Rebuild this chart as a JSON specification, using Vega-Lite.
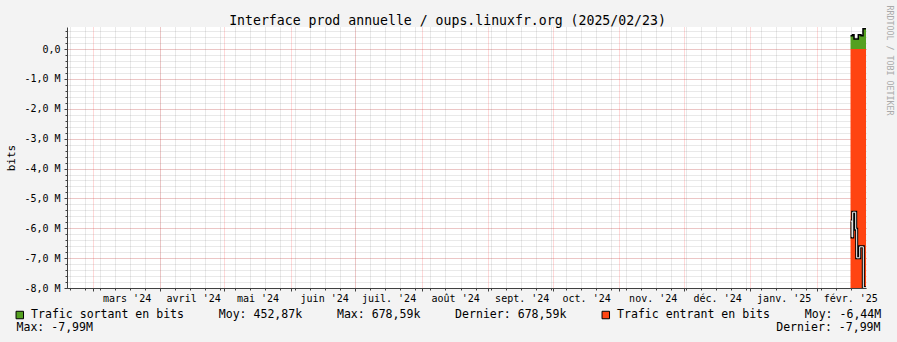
{
  "$schema": "https://vega.github.io/schema/vega-lite/v6.json",
  "width": 799,
  "height": 261,
  "autosize": {"type": "none"},
  "padding": {"left": 67, "top": 27, "right": 31, "bottom": 54},
  "background": "#f3f3f3",
  "title": {"text": "Interface prod annuelle / oups.linuxfr.org (2025/02/23)", "font": "DejaVu Sans Mono", "fontSize": 13.2, "fontWeight": "normal", "color": "#000000", "anchor": "middle", "dx": -19, "dy": 37.5, "offset": 4, "baseline": "alphabetic"},
  "config": {
    "view": {"fill": "#ffffff", "stroke": null},
    "axis": {"labelFont": "DejaVu Sans Mono", "titleFont": "DejaVu Sans Mono", "labelColor": "#000000", "titleColor": "#000000", "titleFontWeight": "normal"},
    "legend": {"labelFont": "DejaVu Sans Mono"}
  },
  "datasets": {
    "out": [
      {"date": "2025-02-16T15:00:00Z", "v": 445000},
      {"date": "2025-02-17T13:00:00Z", "v": 479000},
      {"date": "2025-02-18T06:00:00Z", "v": 335000},
      {"date": "2025-02-20T06:00:00Z", "v": 479000},
      {"date": "2025-02-21T12:00:00Z", "v": 445000},
      {"date": "2025-02-22T10:30:00Z", "v": 678590},
      {"date": "2025-02-23T20:00:00Z", "v": 678590}
    ],
    "inArea": [
      {"date": "2025-02-16T15:00:00Z", "v": -8000000},
      {"date": "2025-02-23T20:00:00Z", "v": -8000000}
    ],
    "inLine": [
      {"date": "2025-02-16T17:00:00Z", "v": -5760000},
      {"date": "2025-02-17T07:30:00Z", "v": -6290000},
      {"date": "2025-02-17T15:20:00Z", "v": -5460000},
      {"date": "2025-02-19T01:00:00Z", "v": -6030000},
      {"date": "2025-02-19T12:00:00Z", "v": -6990000},
      {"date": "2025-02-20T21:40:00Z", "v": -6620000},
      {"date": "2025-02-22T14:00:00Z", "v": -7990000},
      {"date": "2025-02-23T20:00:00Z", "v": -7990000}
    ]
  },
  "layer": [
    {
      "data": {"name": "out"},
      "mark": {"type": "area", "interpolate": "step-after", "clip": true, "opacity": 1},
      "encoding": {
        "x": {"field": "date", "type": "temporal",
          "scale": {"type": "utc", "nice": false, "domain": [{"year": 2024, "month": 2, "date": 17, "hours": 18, "utc": true}, {"year": 2025, "month": 2, "date": 23, "hours": 20, "utc": true}]},
          "axis": {"orient": "bottom", "labels": false, "domain": false, "ticks": true, "tickSize": 2, "tickColor": "#404040",
            "grid": true, "gridColor": "#808080", "gridOpacity": 0.35, "gridDash": [1, 1],
            "title": "Dernier: -7,99M", "titleFontSize": 11.55, "titleX": 813, "titleY": 39.5, "titleAlign": "right", "titleBaseline": "middle", "titleAngle": 0,
            "values": [
              {"year": 2024, "month": 2, "date": 19, "utc": true}, {"year": 2024, "month": 2, "date": 26, "utc": true},
              {"year": 2024, "month": 3, "date": 4, "utc": true}, {"year": 2024, "month": 3, "date": 11, "utc": true}, {"year": 2024, "month": 3, "date": 18, "utc": true}, {"year": 2024, "month": 3, "date": 25, "utc": true},
              {"year": 2024, "month": 4, "date": 1, "utc": true}, {"year": 2024, "month": 4, "date": 8, "utc": true}, {"year": 2024, "month": 4, "date": 15, "utc": true}, {"year": 2024, "month": 4, "date": 22, "utc": true}, {"year": 2024, "month": 4, "date": 29, "utc": true},
              {"year": 2024, "month": 5, "date": 6, "utc": true}, {"year": 2024, "month": 5, "date": 13, "utc": true}, {"year": 2024, "month": 5, "date": 20, "utc": true}, {"year": 2024, "month": 5, "date": 27, "utc": true},
              {"year": 2024, "month": 6, "date": 3, "utc": true}, {"year": 2024, "month": 6, "date": 10, "utc": true}, {"year": 2024, "month": 6, "date": 17, "utc": true}, {"year": 2024, "month": 6, "date": 24, "utc": true},
              {"year": 2024, "month": 7, "date": 1, "utc": true}, {"year": 2024, "month": 7, "date": 8, "utc": true}, {"year": 2024, "month": 7, "date": 15, "utc": true}, {"year": 2024, "month": 7, "date": 22, "utc": true}, {"year": 2024, "month": 7, "date": 29, "utc": true},
              {"year": 2024, "month": 8, "date": 5, "utc": true}, {"year": 2024, "month": 8, "date": 12, "utc": true}, {"year": 2024, "month": 8, "date": 19, "utc": true}, {"year": 2024, "month": 8, "date": 26, "utc": true},
              {"year": 2024, "month": 9, "date": 2, "utc": true}, {"year": 2024, "month": 9, "date": 9, "utc": true}, {"year": 2024, "month": 9, "date": 16, "utc": true}, {"year": 2024, "month": 9, "date": 23, "utc": true}, {"year": 2024, "month": 9, "date": 30, "utc": true},
              {"year": 2024, "month": 10, "date": 7, "utc": true}, {"year": 2024, "month": 10, "date": 14, "utc": true}, {"year": 2024, "month": 10, "date": 21, "utc": true}, {"year": 2024, "month": 10, "date": 28, "utc": true},
              {"year": 2024, "month": 11, "date": 4, "utc": true}, {"year": 2024, "month": 11, "date": 11, "utc": true}, {"year": 2024, "month": 11, "date": 18, "utc": true}, {"year": 2024, "month": 11, "date": 25, "utc": true},
              {"year": 2024, "month": 12, "date": 2, "utc": true}, {"year": 2024, "month": 12, "date": 9, "utc": true}, {"year": 2024, "month": 12, "date": 16, "utc": true}, {"year": 2024, "month": 12, "date": 23, "utc": true}, {"year": 2024, "month": 12, "date": 30, "utc": true},
              {"year": 2025, "month": 1, "date": 6, "utc": true}, {"year": 2025, "month": 1, "date": 13, "utc": true}, {"year": 2025, "month": 1, "date": 20, "utc": true}, {"year": 2025, "month": 1, "date": 27, "utc": true},
              {"year": 2025, "month": 2, "date": 3, "utc": true}, {"year": 2025, "month": 2, "date": 10, "utc": true}, {"year": 2025, "month": 2, "date": 17, "utc": true}
            ]}},
        "y": {"field": "v", "type": "quantitative",
          "scale": {"domain": [-8000000, 740000], "nice": false, "zero": false},
          "axis": {"orient": "left", "title": null, "labels": false, "domain": false, "ticks": true, "tickSize": 2, "tickColor": "#404040",
            "grid": true, "gridColor": "#808080", "gridOpacity": 0.35, "gridDash": [1, 1],
            "values": [-8000000, -7800000, -7600000, -7400000, -7200000, -7000000, -6800000, -6600000, -6400000, -6200000, -6000000, -5800000, -5600000, -5400000, -5200000, -5000000, -4800000, -4600000, -4400000, -4200000, -4000000, -3800000, -3600000, -3400000, -3200000, -3000000, -2800000, -2600000, -2400000, -2200000, -2000000, -1800000, -1600000, -1400000, -1200000, -1000000, -800000, -600000, -400000, -200000, 0, 200000, 400000, 600000]}},
        "color": {"datum": "sortant",
          "scale": {"domain": ["sortant", "entrant"], "range": ["#54a020", "#ff4411"]},
          "legend": {"orient": "none", "legendX": -53, "legendY": 282, "direction": "horizontal", "columns": 2, "columnPadding": 33,
            "title": null, "padding": 0, "symbolType": "square", "symbolSize": 56, "symbolStrokeColor": "#000000", "symbolStrokeWidth": 1, "symbolOpacity": 1,
            "labelFont": "DejaVu Sans Mono", "labelFontSize": 11.55, "labelColor": "#000000", "labelLimit": 2000, "labelOffset": 5.5,
            "labelExpr": "datum.value == 'sortant' ? 'Trafic sortant en bits\u00a0\u00a0\u00a0\u00a0\u00a0Moy: 452,87k\u00a0\u00a0\u00a0\u00a0\u00a0Max: 678,59k\u00a0\u00a0\u00a0\u00a0\u00a0Dernier: 678,59k' : 'Trafic entrant en bits\u00a0\u00a0\u00a0\u00a0\u00a0Moy: -6,44M'"}}
      }
    },
    {
      "data": {"name": "inArea"},
      "mark": {"type": "area", "interpolate": "step-after", "clip": true, "opacity": 1},
      "encoding": {
        "x": {"field": "date", "type": "temporal",
          "axis": {"orient": "bottom", "title": null, "labels": false, "domain": true, "domainColor": "#404040", "ticks": true, "tickSize": 3, "tickColor": "#404040",
            "grid": true, "gridColor": "#ff0000", "gridOpacity": 0.3, "gridDash": [1, 1],
            "values": [
              {"year": 2024, "month": 3, "date": 1, "utc": true}, {"year": 2024, "month": 4, "date": 1, "utc": true}, {"year": 2024, "month": 5, "date": 1, "utc": true},
              {"year": 2024, "month": 6, "date": 1, "utc": true}, {"year": 2024, "month": 7, "date": 1, "utc": true}, {"year": 2024, "month": 8, "date": 1, "utc": true},
              {"year": 2024, "month": 9, "date": 1, "utc": true}, {"year": 2024, "month": 10, "date": 1, "utc": true}, {"year": 2024, "month": 11, "date": 1, "utc": true},
              {"year": 2024, "month": 12, "date": 1, "utc": true}, {"year": 2025, "month": 1, "date": 1, "utc": true}, {"year": 2025, "month": 2, "date": 1, "utc": true}
            ]}},
        "y": {"field": "v", "type": "quantitative",
          "axis": {"orient": "left", "domain": true, "domainColor": "#404040", "ticks": true, "tickSize": 3, "tickColor": "#404040",
            "grid": true, "gridColor": "#ff0000", "gridOpacity": 0.3, "gridDash": [1, 1],
            "values": [-8000000, -7000000, -6000000, -5000000, -4000000, -3000000, -2000000, -1000000, 0],
            "labelFontSize": 10, "labelPadding": 4,
            "labelExpr": "datum.value == 0 ? '0,0\u00a0\u00a0' : '-' + replace(format(-datum.value / 1000000, '.1f'), '.', ',') + ' M'",
            "title": "bits", "titleFontSize": 11, "titleX": -56, "titleY": 130.5, "titleAngle": -90, "titleAlign": "center", "titleBaseline": "middle"}},
        "color": {"datum": "entrant"}
      }
    },
    {
      "data": {"name": "out"},
      "mark": {"type": "line", "interpolate": "step-after", "color": "#000000", "strokeWidth": 1.5, "clip": true},
      "encoding": {
        "x": {"field": "date", "type": "temporal",
          "axis": {"orient": "bottom", "grid": false, "ticks": false, "domain": false, "labels": true,
            "labelFontSize": 10, "labelPadding": 5, "labelOverlap": false, "labelFlush": false, "labelBound": false,
            "labelExpr": "['janv.','févr.','mars','avril','mai','juin','juil.','août','sept.','oct.','nov.','déc.'][utcmonth(datum.value)] + \" '\" + utcFormat(datum.value, '%y')",
            "values": [
              {"year": 2024, "month": 3, "date": 16, "hours": 12, "utc": true}, {"year": 2024, "month": 4, "date": 16, "hours": 12, "utc": true}, {"year": 2024, "month": 5, "date": 16, "hours": 12, "utc": true},
              {"year": 2024, "month": 6, "date": 16, "hours": 12, "utc": true}, {"year": 2024, "month": 7, "date": 16, "hours": 12, "utc": true}, {"year": 2024, "month": 8, "date": 16, "hours": 12, "utc": true},
              {"year": 2024, "month": 9, "date": 16, "hours": 12, "utc": true}, {"year": 2024, "month": 10, "date": 16, "hours": 12, "utc": true}, {"year": 2024, "month": 11, "date": 16, "hours": 12, "utc": true},
              {"year": 2024, "month": 12, "date": 16, "hours": 12, "utc": true}, {"year": 2025, "month": 1, "date": 16, "hours": 12, "utc": true}, {"year": 2025, "month": 2, "date": 16, "hours": 12, "utc": true}
            ],
            "title": "Max: -7,99M",
            "titleFontSize": 11.55, "titleX": -51, "titleY": 39.5, "titleAlign": "left", "titleBaseline": "middle", "titleAngle": 0}},
        "y": {"field": "v", "type": "quantitative",
          "axis": {"orient": "right", "grid": false, "ticks": false, "domain": false, "labels": false,
            "title": "RRDTOOL / TOBI OETIKER", "titleFontSize": 8.3, "titleColor": "#aaaaaa", "titleX": 22, "titleY": -22, "titleAngle": 90, "titleAlign": "left", "titleBaseline": "middle"}}
      }
    },
    {
      "data": {"name": "inLine"},
      "mark": {"type": "line", "interpolate": "step-after", "color": "#000000", "strokeWidth": 3, "clip": true},
      "encoding": {
        "x": {"field": "date", "type": "temporal", "axis": null},
        "y": {"field": "v", "type": "quantitative", "axis": null}
      }
    },
    {
      "data": {"name": "inLine"},
      "mark": {"type": "line", "interpolate": "step-after", "color": "#ffffff", "strokeWidth": 1, "clip": true},
      "encoding": {
        "x": {"field": "date", "type": "temporal", "axis": null},
        "y": {"field": "v", "type": "quantitative", "axis": null}
      }
    }
  ],
  "resolve": {"axis": {"x": "independent", "y": "independent"}}
}
